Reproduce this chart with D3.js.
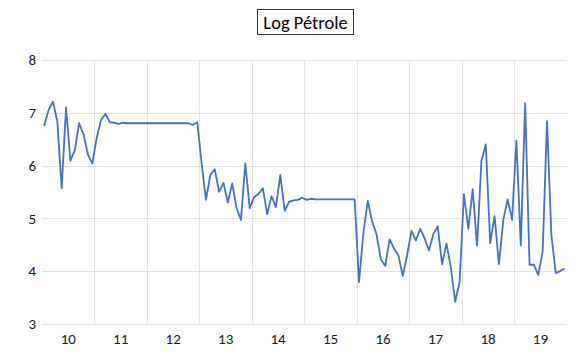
<!DOCTYPE html>
<html>
<head>
<meta charset="utf-8">
<script src="https://cdn.jsdelivr.net/npm/d3@7"></script>
<style>
html,body{margin:0;padding:0;background:#fff;}
svg{display:block;font-family:Carlito,Calibri,Lato,"Open Sans",sans-serif;}
</style>
</head>
<body>
<svg id="chart" width="579" height="357"></svg>
<script>
const title = "Log Pétrole";
const yearLabels = ["10","11","12","13","14","15","16","17","18","19"];
const yTicks = [3,4,5,6,7,8];
const values = [
 6.75,7.05,7.21,6.84,5.57,7.10,6.09,6.29,6.80,6.59,6.21,6.04,
 6.52,6.86,6.98,6.82,6.81,6.79,6.81,6.80,6.80,6.80,6.80,6.80,
 6.80,6.80,6.80,6.80,6.80,6.80,6.80,6.80,6.80,6.80,6.77,6.82,
 6.05,5.35,5.82,5.93,5.50,5.67,5.30,5.66,5.19,4.97,6.04,5.19,
 5.40,5.46,5.57,5.08,5.42,5.21,5.82,5.14,5.31,5.34,5.35,5.39,
 5.35,5.37,5.36,5.36,5.36,5.36,5.36,5.36,5.36,5.36,5.36,5.36,
 3.79,4.72,5.33,4.94,4.70,4.22,4.10,4.60,4.43,4.30,3.91,4.30,
 4.76,4.58,4.80,4.62,4.39,4.70,4.85,4.13,4.52,4.07,3.42,3.79,
 5.46,4.80,5.55,4.48,6.09,6.40,4.53,5.04,4.13,4.97,5.36,4.97,
 6.47,4.49,7.18,4.12,4.12,3.93,4.36,6.84,4.68,3.96,4.00,4.05
];
const months = d3.range(values.length);

const svg = d3.select("#chart");
const L = 42, R = 566.7, T = 59.9, B = 323.9;

const x = d3.scaleBand().domain(months).range([L, R]).padding(0);
const y = d3.scaleLinear().domain([3, 8]).range([B, T]);

// horizontal gridlines
svg.append("g").selectAll("line").data(yTicks).join("line")
  .attr("x1", L).attr("x2", R)
  .attr("y1", d => Math.round(y(d)) + 0.5).attr("y2", d => Math.round(y(d)) + 0.5)
  .attr("stroke", "#e3e3e3").attr("stroke-width", 1);

// vertical gridlines between years
const bounds = d3.range(1, yearLabels.length).map(k => x(k * 12));
svg.append("g").selectAll("line").data(bounds).join("line")
  .attr("x1", d => Math.round(d) + 0.5).attr("x2", d => Math.round(d) + 0.5)
  .attr("y1", T).attr("y2", B)
  .attr("stroke", "#e3e3e3").attr("stroke-width", 1);

// y labels
svg.append("g").selectAll("text").data(yTicks).join("text")
  .attr("x", 36).attr("y", d => y(d)).attr("dy", "0.35em")
  .attr("text-anchor", "end").attr("font-size", 15).attr("fill", "#1a1a1a")
  .text(d => d);

// x labels
svg.append("g").selectAll("text").data(yearLabels).join("text")
  .attr("x", (d, k) => x(k * 12) + x.bandwidth() * 6)
  .attr("y", 344).attr("text-anchor", "middle")
  .attr("font-size", 15).attr("fill", "#1a1a1a")
  .text(d => d);

// line
const line = d3.line().x((d, i) => x(i) + x.bandwidth() / 2).y(d => y(d));
svg.append("path").datum(values)
  .attr("d", line).attr("fill", "none")
  .attr("stroke", "#4472C4").attr("stroke-width", 1.8)
  .attr("stroke-linejoin", "round");

// title with box
const tg = svg.append("g");
const tt = tg.append("text").attr("x", 305.5).attr("y", 28.5)
  .attr("text-anchor", "middle").attr("font-size", 18.5).attr("fill", "#000")
  .text(title);
tg.insert("rect", "text")
  .attr("x", 257.5).attr("y", 9.5)
  .attr("width", 96).attr("height", 25)
  .attr("fill", "#fff").attr("stroke", "#333").attr("stroke-width", 1);
</script>
</body>
</html>
